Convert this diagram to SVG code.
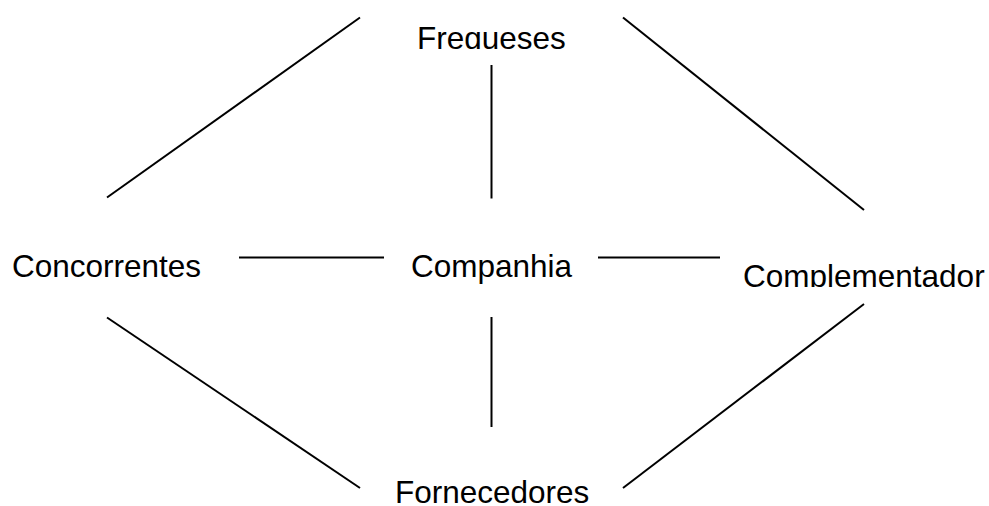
<svg xmlns="http://www.w3.org/2000/svg" width="989" height="506" viewBox="0 0 989 506">
<style>
.lbl{font-family:"Liberation Sans",Arial,sans-serif;font-size:31.5px;fill:#000}
.c line{stroke:#000;stroke-width:2;fill:none}
</style>
<defs>
<clipPath id="clipTop"><rect x="0" y="0" width="989" height="49"/></clipPath>
<clipPath id="clipRight"><rect x="700" y="240" width="289" height="47"/></clipPath>
</defs>
<rect width="989" height="506" fill="#fff"/>
<g class="c" id="connectors">
<line x1="107" y1="197.5" x2="360" y2="17.5"/>
<line x1="623" y1="17.5" x2="864" y2="210"/>
<line x1="491.5" y1="65" x2="491.5" y2="198.5"/>
<line x1="239" y1="257.5" x2="384" y2="257.5"/>
<line x1="598" y1="257.5" x2="720" y2="257.5"/>
<line x1="491.5" y1="317" x2="491.5" y2="427"/>
<line x1="107" y1="317.5" x2="360" y2="488"/>
<line x1="864" y1="304" x2="623" y2="488"/>
</g>
<g id="fregueses" clip-path="url(#clipTop)"><text class="lbl" x="417" y="48.5">Fregueses</text></g>
<g id="concorrentes"><text class="lbl" x="12" y="277">Concorrentes</text></g>
<g id="companhia"><text class="lbl" x="411" y="277">Companhia</text></g>
<g id="complementador" clip-path="url(#clipRight)"><text class="lbl" x="743" y="287">Complementador</text></g>
<g id="fornecedores"><text class="lbl" x="395" y="503">Fornecedores</text></g>
</svg>
